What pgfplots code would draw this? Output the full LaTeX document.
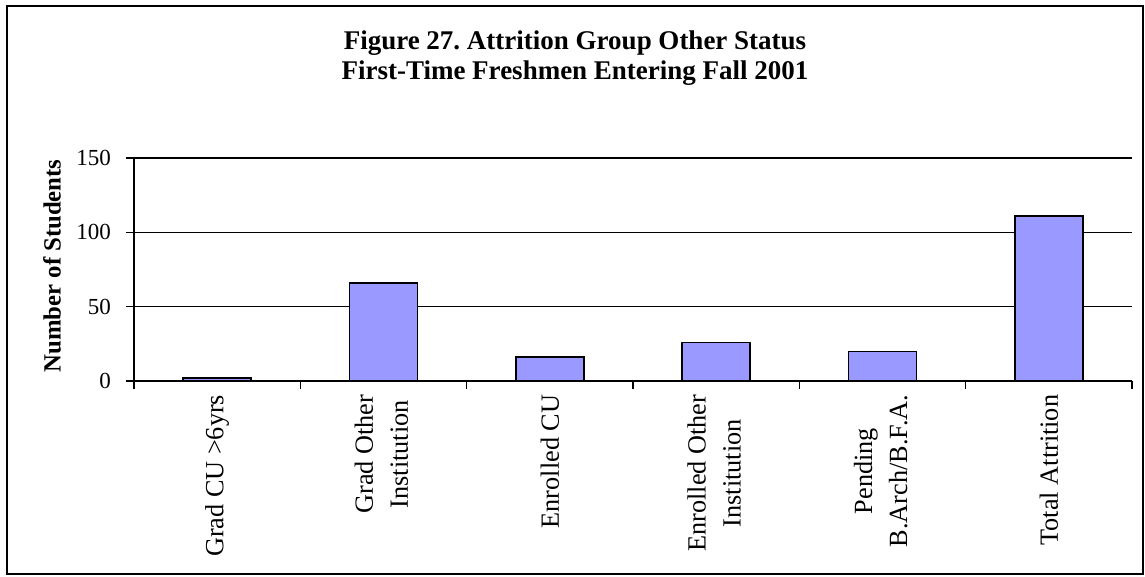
\documentclass[border=0pt]{standalone}
\usepackage{pgfplots}
\pgfplotsset{compat=1.18}
\usepackage{fontspec}
\setmainfont{Liberation Serif}
\definecolor{barfill}{HTML}{9999FF}
\newcommand{\two}[2]{\begin{tabular}{@{}c@{}}#1\\#2\end{tabular}}

\begin{document}
\frenchspacing
\begin{tikzpicture}
\useasboundingbox (-53.6pt,-78pt) rectangle (404.4pt,152.4pt);
\begin{axis}[
    scale only axis, width=399.2pt, height=89.2pt,
    at={(0pt,0pt)}, anchor=south west,
    xmin=-0.5, xmax=5.5, ymin=0, ymax=150,
    ytick={0,50,100,150},
    xtick={-0.5,0.5,1.5,2.5,3.5,4.5,5.5}, xticklabels={},
    extra x ticks={0,1,2,3,4,5},
    extra x tick labels={{Grad CU >6yrs},{\two{Grad Other}{Institution}},{Enrolled CU},{\two{Enrolled Other}{Institution}},{\two{Pending}{B.Arch/B.F.A.}},{Total Attrition}},
    extra x tick style={major tick length=0pt},
    xticklabel style={rotate=90, anchor=east, font=\fontsize{10.5}{14}\selectfont, xshift=-2pt},
    yticklabel style={font=\fontsize{9.2}{11}\selectfont, xshift=-2.5pt},
    /pgf/number format/assume math mode=true,
    axis x line*=bottom, axis y line*=left,
    axis line style={line width=0.7pt, -},
    tick align=outside, major tick length=3.2pt,
    tick style={black, line width=0.6pt},
    ymajorgrids, grid style={black, line width=0.6pt},
    ylabel={Number of Students},
    ylabel style={font=\bfseries\fontsize{9.9}{12}\selectfont, at={(axis description cs:-0.082,0.516)}, anchor=center},
    ybar, bar width=27.2pt,
]
\addplot[fill=barfill, draw=black, line width=0.6pt] coordinates {(0,2) (1,66) (2,16) (3,26) (4,20) (5,111)};
\end{axis}
\node[align=center, font=\bfseries\fontsize{10.8}{12}\selectfont] at (176.4pt,129.2pt) {Figure 27. Attrition Group Other Status\\First-Time Freshmen Entering Fall 2001};
\draw[line width=0.6pt] (-50.8pt,-77.2pt) rectangle (403.6pt,150pt);
\end{tikzpicture}
\end{document}
